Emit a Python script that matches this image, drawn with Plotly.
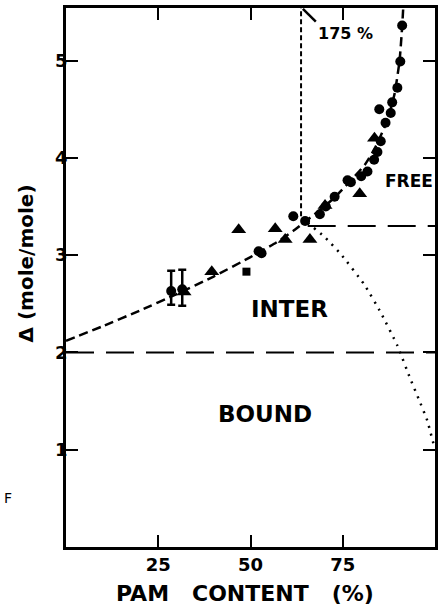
import plotly.graph_objects as go

# Measured data: PAM content (%) vs delta (mole/mole)
circle_x = [91.1, 90.6, 89.8, 88.4, 84.9, 88.0, 86.6, 85.3, 84.4, 83.5, 81.7,
            80.0, 76.3, 77.2, 72.8, 70.4, 68.8, 61.6, 64.8, 53.0, 52.2]
circle_y = [5.36, 4.99, 4.72, 4.57, 4.50, 4.46, 4.36, 4.17, 4.06, 3.98, 3.86,
            3.81, 3.77, 3.75, 3.60, 3.50, 3.42, 3.40, 3.35, 3.02, 3.04]

square_x = [48.9]
square_y = [2.83]

triangle_x = [39.5, 46.8, 56.7, 59.4, 66.1, 70.2, 79.6, 83.6, 32.0]
triangle_y = [2.83, 3.26, 3.27, 3.16, 3.16, 3.51, 3.63, 4.20, 2.62]

# Points with error bars
err_x = [28.5, 31.5]
err_y = [2.63, 2.65]
err_plus = [0.21, 0.20]
err_minus = [0.14, 0.17]

# Fitted trend through the data (dashed)
fit_x = [0, 10, 20, 30, 40, 50, 57, 62, 66, 70, 73, 77, 81, 84, 87, 89,
         90.4, 91.1, 91.4]
fit_y = [2.12, 2.27, 2.43, 2.60, 2.78, 2.98, 3.13, 3.26, 3.38, 3.50, 3.60,
         3.76, 3.93, 4.12, 4.38, 4.65, 5.00, 5.35, 5.55]

# Dotted boundary curve
dot_x = [65.5, 70.0, 74.5, 80.8, 85.3, 89.8, 93.3, 95.6, 97.9, 100.0]
dot_y = [3.33, 3.19, 3.01, 2.70, 2.41, 2.07, 1.73, 1.52, 1.30, 1.00]

# Region boundaries
free_level = 3.3
bound_level = 2.0
vert_x = 63.7
vert_y = [3.40, 5.54]

x_ticks = [25, 50, 75]
y_ticks = [1, 2, 3, 4, 5]

FONT = "DejaVu Sans"
BLACK = "#000000"

fig = go.Figure()

fig.add_trace(go.Scatter(x=fit_x, y=fit_y, mode="lines",
                         line=dict(color=BLACK, width=2.5, dash="9px,5px",
                                   shape="spline", smoothing=0.5),
                         hoverinfo="skip"))
fig.add_trace(go.Scatter(x=dot_x, y=dot_y, mode="lines",
                         line=dict(color=BLACK, width=2.5, dash="2px,6px",
                                   shape="spline", smoothing=0.4),
                         hoverinfo="skip"))
fig.add_trace(go.Scatter(x=[vert_x, vert_x], y=vert_y, mode="lines",
                         line=dict(color=BLACK, width=2, dash="5px,3px"),
                         hoverinfo="skip"))
fig.add_trace(go.Scatter(x=[65.5, 100], y=[free_level, free_level], mode="lines",
                         line=dict(color=BLACK, width=2, dash="28px,12px"),
                         hoverinfo="skip"))
fig.add_trace(go.Scatter(x=[0, 100], y=[bound_level, bound_level], mode="lines",
                         line=dict(color=BLACK, width=2, dash="28px,12px"),
                         hoverinfo="skip"))

fig.add_trace(go.Scatter(x=circle_x, y=circle_y, mode="markers",
                         marker=dict(symbol="circle", size=10, color=BLACK)))
fig.add_trace(go.Scatter(x=square_x, y=square_y, mode="markers",
                         marker=dict(symbol="square", size=8, color=BLACK)))
fig.add_trace(go.Scatter(x=triangle_x, y=triangle_y, mode="markers",
                         marker=dict(symbol="triangle-up", size=13, color=BLACK)))
fig.add_trace(go.Scatter(x=err_x, y=err_y, mode="markers",
                         marker=dict(symbol="circle", size=10, color=BLACK),
                         error_y=dict(type="data", array=err_plus,
                                      arrayminus=err_minus, color=BLACK,
                                      thickness=2.5, width=4)))

# Leader line toward the 175 % value off the top of the chart
fig.add_shape(type="line", x0=64.2, y0=5.53, x1=67.7, y1=5.40,
              line=dict(color=BLACK, width=2.5))

labels = [
    ("175 %", 75.8, 5.28, 16),
    ("FREE", 93.0, 3.76, 17),
    ("INTER", 60.6, 2.45, 23),
    ("BOUND", 53.8, 1.37, 23),
]
for text, lx, ly, size in labels:
    fig.add_annotation(x=lx, y=ly, text=text, showarrow=False,
                       font=dict(family=FONT, size=size, color=BLACK,
                                 weight="bold"))

# Axis titles
fig.add_annotation(xref="paper", yref="paper", x=0.5, y=0, yshift=-46,
                   xshift=-6, yanchor="middle",
                   text="PAM\u00a0\u00a0\u00a0CONTENT\u00a0\u00a0\u00a0(%)",
                   showarrow=False,
                   font=dict(family=FONT, size=22, color=BLACK, weight="bold"))
fig.add_annotation(xref="paper", yref="paper", x=0, y=0.5, xshift=-41,
                   yshift=14, xanchor="center", yanchor="middle",
                   textangle=-90, text="\u0394 (mole/mole)",
                   showarrow=False,
                   font=dict(family=FONT, size=20, color=BLACK, weight="bold"))
fig.add_annotation(xref="paper", yref="paper", x=0, y=0.1, xshift=-58,
                   yshift=-5, xanchor="center", yanchor="middle",
                   text="F", showarrow=False,
                   font=dict(family=FONT, size=14, color=BLACK))

axis_common = dict(showline=True, linecolor=BLACK, linewidth=2.5, mirror="ticks",
                   ticks="inside", ticklen=12, tickwidth=2, tickcolor=BLACK,
                   showgrid=False, zeroline=False,
                   tickfont=dict(family=FONT, size=18, color=BLACK, weight="bold"))

fig.update_xaxes(range=[0, 100], tickvals=x_ticks, **axis_common)
fig.update_yaxes(range=[0, 5.54], tickvals=y_ticks, ticklabelstandoff=-8,
                 **axis_common)

fig.update_layout(width=443, height=608, showlegend=False,
                  margin=dict(l=66, r=5, t=8, b=61),
                  paper_bgcolor="white", plot_bgcolor="white")

fig.write_html("out.html")
